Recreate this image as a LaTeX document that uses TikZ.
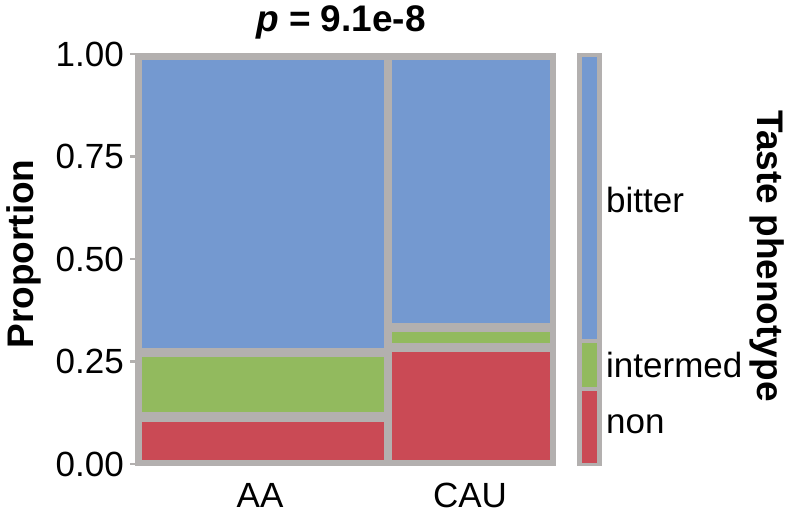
\documentclass[tikz,border=0pt]{standalone}
\usepackage{fontspec}
\setmainfont{Liberation Sans}
\definecolor{gr}{HTML}{B3B0AF}
\definecolor{bl}{HTML}{7499D0}
\definecolor{gn}{HTML}{92BA5E}
\definecolor{rd}{HTML}{CA4A55}
\begin{document}
\begin{tikzpicture}[x=1pt,y=-1pt,
  tick/.style={font=\fontsize{35}{37}\selectfont,anchor=east,inner sep=0pt},
  lab/.style={font=\fontsize{35}{37}\selectfont,inner sep=0pt},
  ttl/.style={font=\bfseries\fontsize{37}{39}\selectfont,inner sep=0pt}]
\useasboundingbox (0,0) rectangle (789,511);
\fill[gr] (135,53) rectangle (556,466);
\fill[bl] (142,60) rectangle (384,348);
\fill[gn] (142,357) rectangle (384,412);
\fill[rd] (142,422) rectangle (384,460);
\fill[bl] (392,60) rectangle (550,323);
\fill[gn] (392,332) rectangle (550,343);
\fill[rd] (392,352) rectangle (550,460);
\fill[gr] (577,53) rectangle (602,466);
\fill[bl] (582,57) rectangle (597,339);
\fill[gn] (582,343) rectangle (597,387);
\fill[rd] (582,391) rectangle (597,463);
\foreach \v/\t in {0/0.00,0.25/0.25,0.5/0.50,0.75/0.75,1/1.00}{
  \draw[gr,line width=2.5] (130,{464-410*\v}) -- (135,{464-410*\v});
  \node[tick] (t\t) at (124,{464-410*\v}) {\t};}
\node[lab,anchor=base] (aa) at (260,507) {AA};
\node[lab,anchor=base] (cau) at (470,507) {CAU};
\node[lab,anchor=base west] (b) at (606,212) {bitter};
\node[lab,anchor=base west] (i) at (606,377) {intermed};
\node[lab,anchor=base west] (n) at (606,433) {non};
\node[ttl] (title) at (341,22) {\textit{p} = 9.1e-8};
\node[ttl,rotate=90] (yl) at (24,254) {Proportion};
\node[ttl,rotate=-90] (zl) at (767,256) {Taste phenotype};
\end{tikzpicture}
\end{document}
